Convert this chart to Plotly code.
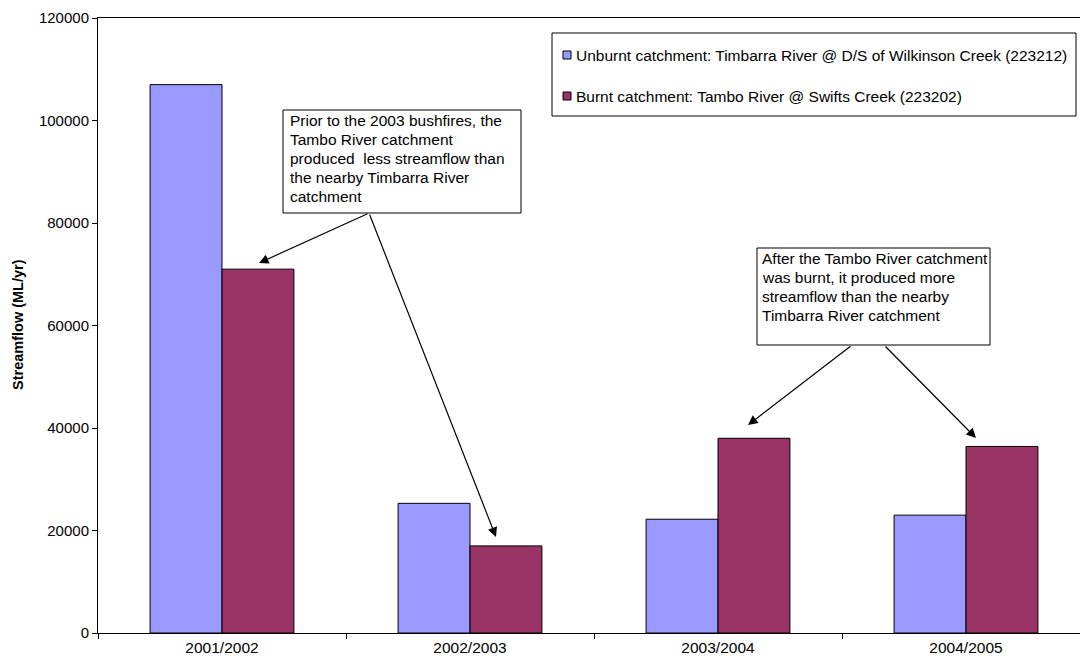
import plotly.graph_objects as go

# ---------------- data ----------------
years = ["2001/2002", "2002/2003", "2003/2004", "2004/2005"]
unburnt = [107000, 25300, 22200, 23000]
burnt = [71000, 17000, 38000, 36400]
unburnt_name = "Unburnt catchment: Timbarra River @ D/S of Wilkinson Creek (223212)"
burnt_name = "Burnt catchment: Tambo River @ Swifts Creek (223202)"
y_ticks = [0, 20000, 40000, 60000, 80000, 100000, 120000]
y_title = "Streamflow (ML/yr)"
note_before = ["Prior to the 2003 bushfires, the",
               "Tambo River catchment",
               "produced\u00a0 less streamflow than",
               "the nearby Timbarra River",
               "catchment"]
note_after = ["After the Tambo River catchment",
              "was burnt, it produced more",
              "streamflow than the nearby",
              "Timbarra River catchment"]

# ---------------- layout geometry ----------------
W, H = 1080, 666
L, R, T, B = 98, 0, 18, 33
PW, PH = W - L - R, H - T - B
CAT_W = 248.0
FONT = "Arial, Liberation Sans, sans-serif"
C_UNB = "#9999FF"
C_BRN = "#993366"


def px(x):
    return (x - L) / PW


def py(y):
    return (H - B - y) / PH


fig = go.Figure()
fig.add_trace(go.Bar(x=years, y=unburnt, name=unburnt_name, marker=dict(color=C_UNB, line=dict(color="black", width=1)), showlegend=False))
fig.add_trace(go.Bar(x=years, y=burnt, name=burnt_name, marker=dict(color=C_BRN, line=dict(color="black", width=1)), showlegend=False))

shapes = []
annotations = []

# legend (drawn manually)
shapes.append(dict(type="rect", xref="paper", yref="paper", x0=px(552), x1=px(1076), y0=py(33), y1=py(116),
                   line=dict(color="black", width=1), fillcolor="white", layer="above"))
for name, col, yc in [(unburnt_name, C_UNB, 55), (burnt_name, C_BRN, 96)]:
    shapes.append(dict(type="rect", xref="paper", yref="paper", x0=px(563), x1=px(571), y0=py(yc - 4), y1=py(yc + 4),
                       line=dict(color="black", width=1), fillcolor=col, layer="above"))
    annotations.append(dict(text=name, xref="paper", yref="paper", x=px(574), y=py(yc), xanchor="left", yanchor="middle",
                            showarrow=False, font=dict(family=FONT, size=15.5, color="black")))

# note boxes
def note(lines, x0, y0, x1, y1, tx, ty0, dy):
    shapes.append(dict(type="rect", xref="paper", yref="paper", x0=px(x0), x1=px(x1), y0=py(y0), y1=py(y1),
                       line=dict(color="black", width=1), fillcolor="white", layer="above"))
    for i, ln in enumerate(lines):
        annotations.append(dict(text=ln, xref="paper", yref="paper", x=px(tx), y=py(ty0 + i * dy), xanchor="left",
                                yanchor="middle", showarrow=False, font=dict(family=FONT, size=15.5, color="black")))

note(note_before, 283, 110, 521, 213, 288, 120, 19)
note(note_after, 757, 248, 990, 345, 760, 258, 19.3)

# arrows (tail -> head)
for (tx, ty, hx, hy) in [(369, 213, 259, 263), (369, 213, 496, 537), (852, 345, 748, 425), (884, 345, 976, 438)]:
    annotations.append(dict(text="", xref="paper", yref="paper", x=px(hx), y=py(hy), ax=tx - hx, ay=ty - hy,
                            showarrow=True, arrowhead=2, arrowsize=1.6, arrowwidth=1.2, arrowcolor="black", standoff=0))

# y-axis title
annotations.append(dict(text="<b>" + y_title + "</b>", xref="paper", yref="paper", x=px(18), y=py(325), textangle=-90,
                        xanchor="center", yanchor="middle", showarrow=False, font=dict(family=FONT, size=14.5, color="black")))

fig.update_layout(
    width=W, height=H, margin=dict(l=L, r=R, t=T, b=B, pad=0),
    paper_bgcolor="white", plot_bgcolor="white",
    barmode="group", bargap=0.42, bargroupgap=0,
    shapes=shapes, annotations=annotations,
    font=dict(family=FONT, size=15.5, color="black"),
    xaxis=dict(range=[-0.5, -0.5 + PW / CAT_W], showline=True, linecolor="black", linewidth=1, mirror=True,
               ticks="outside", ticklen=5, tickcolor="black", tickson="boundaries", showgrid=False,
               tickfont=dict(family=FONT, size=15.5, color="black")),
    yaxis=dict(range=[0, 120000], tickvals=y_ticks, tickformat="d", showline=True, linecolor="black", linewidth=1,
               ticks="outside", ticklen=5, tickcolor="black", showgrid=False, zeroline=False,
               tickfont=dict(family=FONT, size=15, color="black")),
)

fig.write_html("out.html")
